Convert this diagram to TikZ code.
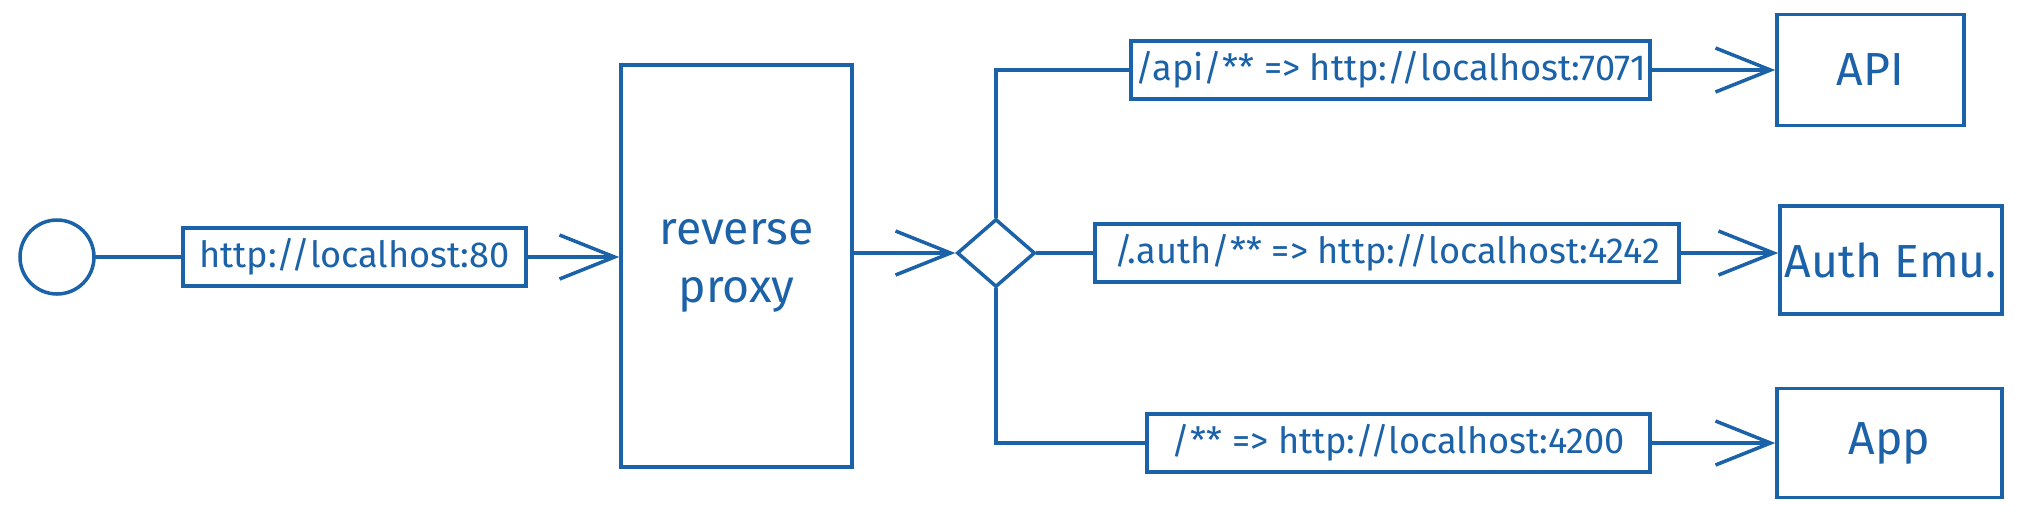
\documentclass[tikz,border=0pt]{standalone}
\usepackage{fontspec}
\setmainfont{Fira Sans}
\usetikzlibrary{arrows.meta,shapes.geometric}
\definecolor{inkblue}{RGB}{27,98,168}
\begin{document}
\begin{tikzpicture}[color=inkblue, line width=1pt, line cap=round, >={Straight Barb[length=5.5mm,width=4.4mm]},
	route/.style={draw, rectangle, minimum height=5.8mm, inner sep=0pt, font=\fontsize{10.3}{12}\selectfont},
	service/.style={draw, rectangle, inner sep=0pt, align=center, font=\fontsize{13.2}{16.5}\selectfont}]
	\useasboundingbox (0, 0) rectangle (20.23, 5.21);
	
	\node [draw, circle, minimum size=7.4mm, inner sep=0pt] (start) at (0.57, 2.64) {};
	\node [route, minimum width=34.3mm] (lbl80) at (3.545, 2.64) {http://localhost:80};
	\node [service, minimum width=23.1mm, minimum height=40.2mm] (proxy) at (7.365, 2.55) {reverse\\proxy};
	\node [draw, diamond, minimum width=7.8mm, minimum height=6.8mm, inner sep=0pt] (gate) at (9.96, 2.68) {};
	
	\node [route, minimum width=51.9mm] (apilbl) at (13.905, 4.51) {/api/** => http://localhost:7071};
	\node [route, minimum width=58.4mm] (authlbl) at (13.87, 2.68) {/.auth/** => http://localhost:4242};
	\node [route, minimum width=50.3mm] (applbl) at (13.985, 0.78) {/** => http://localhost:4200};
	
	\node [service, minimum width=18.7mm, minimum height=11.1mm] (api) at (18.705, 4.51) {API};
	\node [service, minimum width=22.2mm, minimum height=10.8mm] (auth) at (18.91, 2.61) {Auth Emu.};
	\node [service, minimum width=22.5mm, minimum height=10.9mm] (app) at (18.895, 0.78) {App};
	
	\draw (start) -- (lbl80);
	\draw [->] (lbl80.east) -- (lbl80.east -| proxy.west);
	\draw [->] (proxy.east |- gate.west) -- (gate.west);
	
	\draw (gate.north) |- (apilbl.west);
	\draw (gate.east) -- (gate.east -| authlbl.west);
	\draw (gate.south) |- (applbl.west);
	
	\draw [->] (apilbl.east) -- (apilbl.east -| api.west);
	\draw [->] (authlbl.east) -- (authlbl.east -| auth.west);
	\draw [->] (applbl.east) -- (applbl.east -| app.west);
\end{tikzpicture}
\end{document}
